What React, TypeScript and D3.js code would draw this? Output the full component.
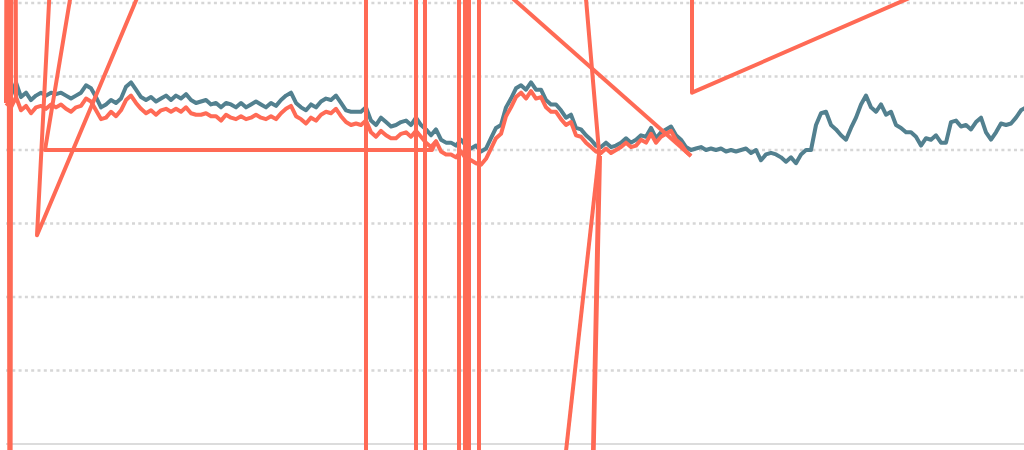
import { useEffect, useRef } from 'react';
import * as d3 from 'd3';

// ─── Data ───────────────────────────────────────────────────

// teal series, one value per step (day index 0..204)
const tealValues = [
  241, 237, 246, 236, 239, 234, 237, 239, 237, 239,
  238, 239, 237, 235, 237, 239, 244, 242, 236, 229,
  231, 234, 232, 235, 243, 246, 241, 236, 234, 236,
  233, 235, 237, 234, 237, 235, 238, 234, 232, 233,
  234, 231, 232, 229, 232, 231, 229, 232, 229, 231,
  233, 231, 229, 232, 230, 234, 237, 239, 232, 229,
  227, 231, 229, 233, 235, 234, 237, 232, 227, 226,
  226, 226, 229, 220, 217, 222, 219, 216, 217, 219,
  220, 217, 222, 217, 214, 210, 214, 207, 205, 205,
  203, 207, 203, 201, 203, 199, 201, 208, 215, 217,
  229, 235, 242, 244, 241, 246, 241, 241, 234, 231,
  231, 227, 222, 224, 215, 214, 210, 207, 203, 202,
  205, 202, 203, 205, 208, 205, 207, 210, 209, 215,
  208, 212, 214, 216, 210, 207, 202, 200, 201, 202,
  200, 201, 200, 201, 199, 200, 199, 200, 201, 198,
  200, 193, 197, 198, 197, 195, 192, 195, 191, 197,
  200, 200, 217, 225, 226, 217, 214, 210, 207, 215,
  222, 231, 237, 229, 226, 231, 224, 226, 217, 215,
  212, 212, 209, 203, 208, 207, 210, 205, 205, 219,
  220, 216, 217, 214, 219, 222, 212, 207, 212, 218,
  217, 218, 222, 227, 229,
];

// orange series, stops at day 137
const orangeValues = [
  232, 229, 236, 227, 230, 225, 229, 230, 228, 231,
  229, 231, 228, 226, 229, 230, 235, 233, 227, 221,
  222, 226, 223, 227, 234, 237, 232, 228, 225, 227,
  224, 227, 228, 226, 228, 226, 229, 225, 224, 224,
  225, 223, 223, 220, 224, 222, 221, 223, 221, 222,
  224, 222, 221, 223, 221, 225, 228, 230, 223, 221,
  218, 222, 220, 224, 226, 225, 228, 223, 219, 217,
  218, 217, 220, 212, 209, 213, 210, 208, 208, 211,
  212, 209, 213, 209, 205, 202, 206, 199, 197, 197,
  195, 199, 194, 193, 191, 190, 194, 201, 208, 211,
  223, 229, 236, 239, 235, 240, 235, 236, 229, 226,
  226, 221, 217, 219, 210, 209, 205, 202, 199, 198,
  201, 198, 200, 202, 205, 202, 203, 207, 205, 211,
  205, 209, 211, 213, 207, 204, 199, 196,
];

// stray orange segments [day, value] – out-of-order / out-of-range points
const orangeStrays: [number, number][][] = [
  [[0, 232], [0.4, 710], [0.8, -378], [1, 229]],
  [[1, 229], [1.6, 846], [2, 236]],
  [[13.8, 642], [6.2, 142], [68.2, 642]],
  [[29.4, 642], [7.8, 200], [85.2, 200], [86, 206]],
  [
    [72, 1500], [72, -1500], [82, -1500], [82, 1500], [83.8, 1500], [83.8, -1500],
    [90.6, -1500], [90.6, 1500], [91.8, 1500], [91.8, -1500], [92.6, -1500],
    [92.6, 1500], [94.6, 1500], [94.6, -1500],
  ],
  [[105.8, 710], [118.6, 199], [115.2, -378], [118.8, 196]],
  [[118.6, 197], [99.8, -378]],
  [[58.8, 431], [137, 196]],
  [[137.2, 710], [137.2, 239], [227, 372]],
];

const yTicks = [50, 100, 150, 200, 250, 300];

// ─── Constants ──────────────────────────────────────────────

const WIDTH = 1024;
const HEIGHT = 450;
const TEAL = '#52808f';
const ORANGE = '#ff6a55';

export default function App() {
  const svgRef = useRef<SVGSVGElement>(null);

  useEffect(() => {
    if (!svgRef.current) return;
    const svg = d3.select(svgRef.current);
    svg.selectAll('*').remove();

    const x = d3.scaleLinear().domain([0, 204]).range([6, 1026]);
    const y = d3.scaleLinear().domain([0, 300]).range([444, 3]);

    // Grid
    svg.append('g')
      .selectAll('line')
      .data(yTicks)
      .join('line')
      .attr('x1', x(0)).attr('x2', WIDTH)
      .attr('y1', (d) => y(d)).attr('y2', (d) => y(d))
      .attr('stroke', '#d6d6d6')
      .attr('stroke-width', 2.5)
      .attr('stroke-dasharray', '3 3.3');

    // Baseline
    svg.append('line')
      .attr('x1', x(0)).attr('x2', WIDTH)
      .attr('y1', y(0)).attr('y2', y(0))
      .attr('stroke', '#dcdcdc')
      .attr('stroke-width', 2);

    const line = d3.line<[number, number]>()
      .x((d) => x(d[0]))
      .y((d) => y(d[1]));

    const teal = tealValues.map((v, i) => [i, v] as [number, number]);
    const orange = orangeValues.map((v, i) => [i, v] as [number, number]);

    svg.append('path')
      .attr('d', line(teal))
      .attr('fill', 'none')
      .attr('stroke', TEAL)
      .attr('stroke-width', 4)
      .attr('stroke-linejoin', 'round');

    svg.append('g')
      .selectAll('path')
      .data(orangeStrays)
      .join('path')
      .attr('d', (d) => line(d))
      .attr('fill', 'none')
      .attr('stroke', ORANGE)
      .attr('stroke-width', 4)
      .attr('stroke-linejoin', 'round');

    svg.append('path')
      .attr('d', line(orange))
      .attr('fill', 'none')
      .attr('stroke', ORANGE)
      .attr('stroke-width', 4)
      .attr('stroke-linejoin', 'round');
  }, []);

  return (
    <svg
      ref={svgRef}
      width={WIDTH}
      height={HEIGHT}
      style={{ position: 'absolute', left: 0, top: 0, overflow: 'hidden' }}
    />
  );
}
